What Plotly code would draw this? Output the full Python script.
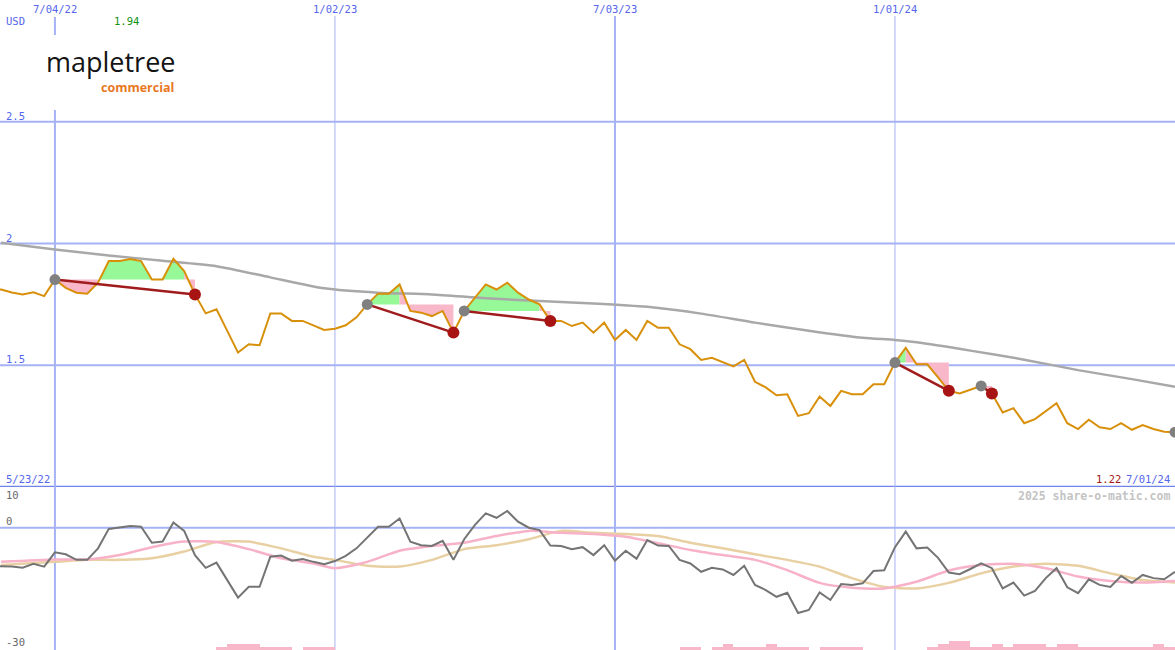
import plotly.graph_objects as go
import pandas as pd

W, H = 1175, 650

# ---------------- data ----------------
first_week = "2022-05-23"
n_weeks = 111  # weekly closes 5/23/22 .. 7/01/24
dates = pd.date_range(first_week, periods=n_weeks, freq="7D")
K0 = 6  # index of 7/04/22

price = [1.815, 1.811, 1.799, 1.791, 1.800, 1.784,
         1.852, 1.818, 1.798, 1.794, 1.839, 1.928, 1.928, 1.936, 1.928, 1.852,
         1.852, 1.937, 1.887, 1.791, 1.713, 1.730, 1.641, 1.552, 1.586, 1.582,
         1.713, 1.713, 1.682, 1.682, 1.664, 1.645, 1.650, 1.664, 1.697, 1.750,
         1.794, 1.794, 1.832, 1.723, 1.716, 1.702, 1.723, 1.634, 1.723, 1.777,
         1.832, 1.811, 1.839, 1.798, 1.770, 1.750, 1.682, 1.682, 1.661, 1.675,
         1.634, 1.675, 1.604, 1.645, 1.604, 1.682, 1.654, 1.654, 1.586, 1.566,
         1.522, 1.531, 1.514, 1.495, 1.522, 1.432, 1.409, 1.377, 1.381, 1.292,
         1.303, 1.372, 1.333, 1.395, 1.381, 1.381, 1.422, 1.422, 1.511, 1.572,
         1.504, 1.504, 1.450, 1.395, 1.384, 1.398, 1.415, 1.384, 1.306, 1.324,
         1.262, 1.279, 1.313, 1.344, 1.262, 1.238, 1.276, 1.245, 1.238, 1.262,
         1.235, 1.254, 1.238, 1.227, 1.225]

# long moving average (grey), read at selected weeks (week offset from 7/04/22)
ma_weeks = [-5, 0, 5, 10, 15, 20, 25, 30, 35, 40, 45, 50, 55, 60, 65, 70, 75,
            78, 80, 85, 90, 95, 100, 104]
ma_long = [2.003, 1.975, 1.951, 1.929, 1.907, 1.861, 1.816, 1.798, 1.791, 1.775,
           1.764, 1.754, 1.740, 1.712, 1.675, 1.642, 1.613, 1.604, 1.594, 1.560,
           1.523, 1.480, 1.443, 1.412]

# trades: entry / exit weeks (offset from 7/04/22)
entry_weeks = [0, 29, 38, 78, 86, 104]
exit_weeks = [13, 37, 46, 83, 87]

# lower panel oscillator
momentum = [-9.6, -9.65, -9.8, -10.1, -9.1, -9.8,
            -6.2, -6.7, -8.1, -8.1, -5.2, -0.3, 0.0, 0.4, 0.25, -3.8,
            -3.5, 1.3, -0.8, -6.9, -10.1, -8.8, -13.2, -17.6, -14.9, -14.9,
            -7.3, -7.0, -8.3, -7.9, -8.6, -9.2, -8.4, -7.1, -5.2, -2.5,
            0.25, 0.25, 2.3, -3.5, -4.4, -4.6, -3.3, -8.1, -2.9, 0.7,
            3.6, 2.5, 4.2, 1.5, 0.0, -0.6, -4.5, -4.6, -5.4, -4.9,
            -6.9, -4.4, -8.3, -5.8, -7.8, -3.1, -4.5, -4.6, -8.1, -9.0,
            -11.1, -10.1, -10.5, -11.9, -9.6, -14.4, -15.7, -17.4, -16.4, -21.5,
            -20.7, -16.3, -18.2, -14.2, -14.4, -14.0, -10.9, -10.7, -4.9, -1.0,
            -5.2, -5.0, -7.6, -11.3, -11.7, -10.4, -9.0, -10.2, -15.3, -13.8,
            -17.1, -15.9, -12.7, -10.2, -15.0, -16.5, -13.0, -14.4, -14.9, -12.2,
            -13.9, -11.9, -12.7, -13.0, -11.1]

osc_weeks = [-5, 0, 3, 6, 9, 12, 15, 18, 21, 24, 26, 29, 32, 35, 38, 41, 44, 47,
             50, 53, 56, 59, 62, 65, 68, 71, 74, 77, 80, 83, 86, 89, 92, 95, 98,
             101, 104]
osc_fast = [-8.6, -8.0, -8.0, -6.9, -4.9, -3.5, -3.6, -5.4, -7.7, -9.0, -10.2,
            -8.6, -5.8, -4.6, -3.8, -2.1, -0.8, -1.3, -1.6, -2.3, -3.9, -5.6,
            -6.9, -8.1, -10.7, -13.9, -15.1, -15.3, -13.6, -10.8, -9.4, -9.1,
            -10.2, -12.3, -13.4, -13.8, -13.4]
osc_slow = [-9.4, -8.6, -8.1, -8.1, -7.7, -6.0, -3.6, -3.5, -5.2, -7.3, -8.1,
            -9.6, -9.8, -8.1, -5.4, -4.4, -2.9, -0.8, -1.3, -1.6, -2.1, -3.8,
            -5.2, -6.7, -8.1, -9.8, -12.7, -14.9, -15.3, -13.9, -11.5, -9.8,
            -9.1, -9.6, -11.5, -13.2, -13.8]

bar_weeks = [15, 16, 17, 18, 19, 20, 21, 23, 24, 25,
             58, 59, 61, 62, 63, 64, 65, 66, 67, 68, 69, 71, 72, 73, 74,
             81, 82, 83, 84, 85, 86, 87, 88, 89, 90, 91, 92, 93, 94, 95, 96,
             97, 98, 99, 100, 101, 102, 103]
bar_heights = [0.8, 1.5, 1.5, 1.5, 0.8, 0.8, 0.8, 0.8, 0.8, 0.8,
               0.8, 0.8, 0.8, 1.5, 0.8, 0.8, 0.8, 1.5, 0.8, 0.8, 0.8, 0.8, 0.8, 0.8, 0.8,
               0.8, 1.5, 2.25, 2.25, 0.8, 0.8, 1.5, 0.8, 1.5, 1.5, 1.5, 0.8, 1.5, 1.5, 0.8, 0.8,
               0.8, 0.8, 0.8, 0.8, 0.8, 1.5, 0.8]

top_dates = ["2022-07-04", "2023-01-02", "2023-07-03", "2024-01-01"]
top_labels = ["7/04/22", "1/02/23", "7/03/23", "1/01/24"]
main_ticks = [2.5, 2.0, 1.5]
main_tick_labels = ["2.5", "2", "1.5"]
osc_ticks = [10, 0, -30]
osc_tick_labels = ["10", "0", "-30"]
high_label = "1.94"
last_label = "1.22"
first_date_label = "5/23/22"
last_date_label = "7/01/24"

# ---------------- helpers ----------------
def d(week):
    return dates[week + K0]

def py(pix):
    return 1 - pix / H

def pxx(pix):
    return pix / W

BLUE = "#5466ec"
GRID = "#a6b2f4"
MONO = "DejaVu Sans Mono"

fig = go.Figure()

# trade fills (per weekly segment, coloured by where the segment ends)
gx, gy, rx, ry = [], [], [], []
for e, x in zip(entry_weeks, exit_weeks):
    base = price[e + K0]
    for k in range(e, x):
        p0, p1 = price[k + K0], price[k + 1 + K0]
        poly_x = [d(k), d(k), d(k + 1), d(k + 1), d(k)]
        poly_y = [base, p0, p1, base, base]
        if p1 >= base:
            gx += poly_x + [None]; gy += poly_y + [None]
        else:
            rx += poly_x + [None]; ry += poly_y + [None]
fig.add_trace(go.Scatter(x=gx, y=gy, fill="toself", fillcolor="#96f896",
                         line=dict(width=0), mode="lines", hoverinfo="skip"))
fig.add_trace(go.Scatter(x=rx, y=ry, fill="toself", fillcolor="#f8b8ca",
                         line=dict(width=0), mode="lines", hoverinfo="skip"))

# long MA
fig.add_trace(go.Scatter(x=[d(k) for k in ma_weeks], y=ma_long, mode="lines",
                         line=dict(color="#a8a8a8", width=2.5, shape="spline", smoothing=0.6)))
# price
fig.add_trace(go.Scatter(x=dates, y=price, mode="lines",
                         line=dict(color="#d8900a", width=2)))
# trade connectors
tx, ty = [], []
for e, x in zip(entry_weeks, exit_weeks):
    tx += [d(e), d(x), None]
    ty += [price[e + K0], price[x + K0], None]
fig.add_trace(go.Scatter(x=tx, y=ty, mode="lines", line=dict(color="#a01c1c", width=2.5)))
fig.add_trace(go.Scatter(x=[d(e) for e in entry_weeks], y=[price[e + K0] for e in entry_weeks],
                         mode="markers", marker=dict(color="#808080", size=11, line=dict(width=0)),
                         cliponaxis=False))
fig.add_trace(go.Scatter(x=[d(x) for x in exit_weeks], y=[price[x + K0] for x in exit_weeks],
                         mode="markers", marker=dict(color="#a81414", size=12, line=dict(width=0))))

# lower panel
fig.add_trace(go.Bar(x=[d(k) + pd.Timedelta(days=3.5) for k in bar_weeks], y=bar_heights,
                     base=-30.8, width=7 * 86400000, marker=dict(color="#f8b8ca", line=dict(width=0)),
                     yaxis="y2"))
fig.add_trace(go.Scatter(x=[d(k) for k in osc_weeks], y=osc_slow, mode="lines", yaxis="y2",
                         line=dict(color="#e8d0a2", width=2.5, shape="spline", smoothing=0.6)))
fig.add_trace(go.Scatter(x=[d(k) for k in osc_weeks], y=osc_fast, mode="lines", yaxis="y2",
                         line=dict(color="#f8b2c8", width=2.5, shape="spline", smoothing=0.6)))
fig.add_trace(go.Scatter(x=dates, y=momentum, mode="lines", yaxis="y2",
                         line=dict(color="#747474", width=2)))

# ---------------- grid shapes ----------------
shapes = []
for v in main_ticks:
    shapes.append(dict(type="line", xref="paper", x0=0, x1=1, yref="y", y0=v, y1=v,
                       line=dict(color=GRID, width=2), layer="below"))
shapes.append(dict(type="line", xref="paper", x0=0, x1=1, yref="y", y0=1.0, y1=1.0,
                   line=dict(color="#7282ea", width=2.5), layer="below"))
shapes.append(dict(type="line", xref="paper", x0=0, x1=1, yref="y2", y0=0, y1=0,
                   line=dict(color=GRID, width=2), layer="below"))
vwidths = [2, 1, 2, 1]
for dt, wv in zip(top_dates, vwidths):
    if dt == top_dates[0]:
        segs = [(py(35), py(17)), (0, py(110))]
    else:
        segs = [(0, py(16))]
    for y0, y1 in segs:
        shapes.append(dict(type="line", xref="x", x0=dt, x1=dt, yref="paper", y0=y0, y1=y1,
                           line=dict(color=GRID, width=wv), layer="below"))

# ---------------- annotations ----------------
ann = []
def text(x, y, t, color, size=10.5, xanchor="left", xref="paper", yref="paper", bold=False,
         family=MONO, yanchor="middle"):
    ann.append(dict(x=x, y=y, xref=xref, yref=yref, text=("<b>%s</b>" % t) if bold else t,
                    showarrow=False, xanchor=xanchor, yanchor=yanchor,
                    font=dict(family=family, size=size, color=color)))

for dt, lab in zip(top_dates, top_labels):
    text(dt, py(9), lab, BLUE, xanchor="center", xref="x")
text(pxx(4), py(21), "USD", BLUE)
text(pxx(112), py(21), high_label, "#109010")
for v, lab in zip(main_ticks, main_tick_labels):
    ann.append(dict(x=pxx(4), y=v, xref="paper", yref="y", text=lab, showarrow=False,
                    xanchor="left", yanchor="middle", yshift=6,
                    font=dict(family=MONO, size=10.5, color=BLUE)))
text(pxx(4), py(479), first_date_label, BLUE)
text(pxx(1172), py(479), last_date_label, BLUE, xanchor="right")
text(pxx(1123), py(479), last_label, "#a01818", xanchor="right")
text(pxx(1172), py(496), "2025 share-o-matic.com", "#c4c4c4", size=11.5, xanchor="right", bold=True)
for v, lab, pyy in zip(osc_ticks, osc_tick_labels, [495, 521, 642]):
    text(pxx(4), py(pyy), lab, "#686868")

# logo
text(pxx(44), py(61.5), "mapletree", "#141414", size=27, family="Open Sans")
text(pxx(176), py(87.5), "commercial", "#e8781e", size=12.5, family="Open Sans", xanchor="right", bold=True)

fig.update_layout(
    width=W, height=H, margin=dict(l=0, r=0, t=0, b=0),
    paper_bgcolor="white", plot_bgcolor="white", showlegend=False,
    xaxis=dict(type="date", range=["2022-05-29 07:00", "2024-07-01"], visible=False),
    yaxis=dict(domain=[1 - 487 / H, 1], range=[1.0, 3.0], visible=False),
    yaxis2=dict(domain=[0, 1 - 487 / H], range=[-30.8, 10.25], visible=False, anchor="x"),
    shapes=shapes, annotations=ann, bargap=0,
)
fig.write_html("out.html", config={"displayModeBar": False},
               post_script="document.body.style.margin='0';document.body.style.overflow='hidden';")
